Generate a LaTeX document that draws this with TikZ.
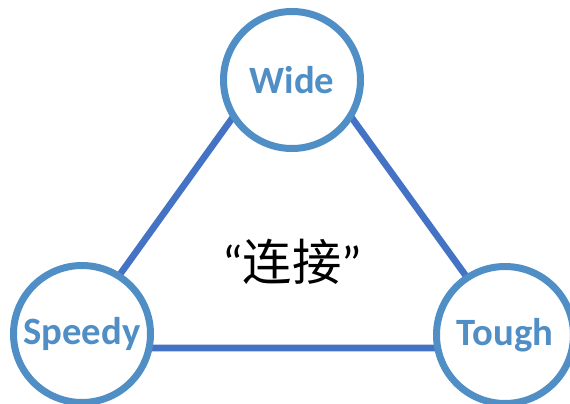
\documentclass[tikz,border=0pt]{standalone}
\usepackage{fontspec}
\setmainfont{Carlito}
\newfontfamily\cjk{Noto Sans CJK SC}
\usetikzlibrary{positioning}
\definecolor{ringColor}{RGB}{80,142,198}
\definecolor{edgeColor}{RGB}{68,114,196}
\tikzstyle{pixelGrid} = [x = .75pt, y = -.75pt]
\tikzstyle{ringStyle} = [circle, draw=ringColor, fill=white, line width=5.25pt, minimum size=102.75pt, inner sep=0pt, text=ringColor, font=\bfseries\fontsize{29}{32}\selectfont]
\tikzstyle{edgeLine} = [color=edgeColor, line width=5pt]
\tikzstyle{centerText} = [font=\fontsize{37}{42}\selectfont, text=black]
\begin{document}
\begin{tikzpicture}[pixelGrid]
  \useasboundingbox (0,0) rectangle (570,403);
  % corners of the triangle
  \coordinate (topCorner) at (292,35);
  \coordinate (leftCorner) at (67,348);
  \coordinate (rightCorner) at (518,348);
  \draw [edgeLine] (topCorner) -- (leftCorner) -- (rightCorner) -- cycle;

  \node [ringStyle] (wide) at (292,80) {Wide};
  \node [ringStyle] (speedy) at (82,334) {Speedy};
  \node [ringStyle] (tough) at (505,335) {Tough};

  \node [centerText] (link) at (292,262) {“{\cjk 连接}”};
\end{tikzpicture}
\end{document}
